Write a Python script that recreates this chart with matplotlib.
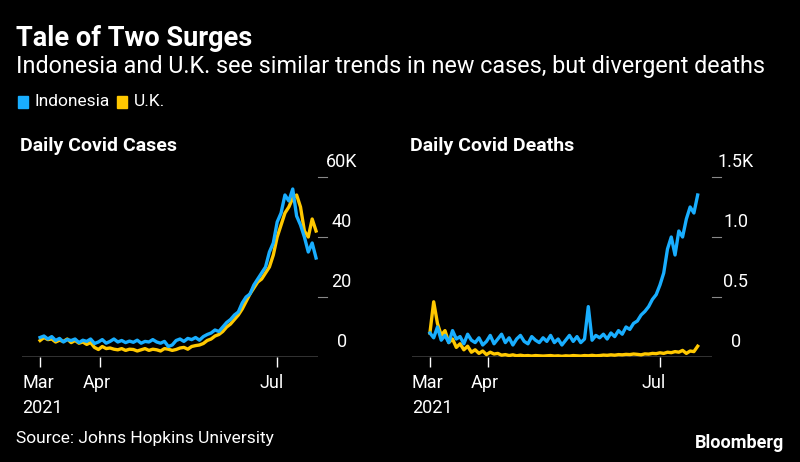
import numpy as np
import matplotlib.pyplot as plt
from matplotlib.transforms import offset_copy

# every 2 days from 2021-03-01 (day 0) to 2021-07-21 (day 142)
days = list(range(0, 143, 2))

indo_cases = [6.5, 7.0, 6.0, 6.8, 5.5, 6.2, 5.0, 5.8, 5.5, 6.0, 4.8, 5.6, 5.2, 6.0, 4.5,
              5.0, 5.8, 4.6, 5.2, 6.0, 5.0, 5.5, 4.8, 5.3, 4.9, 5.6, 4.6, 5.2, 5.0, 5.8,
              5.0, 4.6, 5.2, 3.5, 4.0, 5.5, 6.0, 5.2, 6.2, 5.8, 6.5, 5.6, 6.8, 7.5, 8.0,
              9.0, 8.5, 10.0, 11.5, 12.5, 14.0, 15.0, 18.0, 20.0, 21.0, 24.0, 26.0, 28.0,
              30.0, 35.0, 38.0, 45.0, 48.0, 54.0, 52.0, 56.0, 47.0, 44.0, 40.0, 35.0, 38.0, 33.0]
uk_cases = [5.5, 6.5, 5.8, 6.0, 5.0, 5.6, 5.2, 6.0, 4.8, 5.5, 4.6, 5.0, 4.2, 4.8, 3.2,
            2.5, 3.5, 2.8, 3.0, 2.6, 2.4, 2.8, 2.2, 2.6, 2.5, 2.0, 2.4, 2.8, 2.2, 2.6,
            2.4, 2.0, 2.8, 2.6, 2.2, 2.5, 3.0, 3.2, 2.6, 3.5, 3.8, 4.0, 4.5, 5.5, 6.0,
            7.0, 7.5, 8.5, 10.0, 11.0, 12.5, 14.0, 16.0, 18.5, 21.0, 23.0, 25.0, 26.0,
            28.0, 30.0, 34.0, 40.0, 44.0, 48.0, 50.0, 53.0, 54.0, 50.0, 42.0, 40.0, 46.0, 42.0]
indo_deaths = [200, 160, 250, 140, 180, 120, 220, 150, 170, 110, 190, 140, 120, 160, 100,
               130, 180, 110, 150, 190, 120, 160, 100, 150, 180, 130, 110, 170, 140, 120,
               160, 130, 180, 120, 150, 100, 140, 180, 130, 170, 120, 150, 420, 140, 180,
               160, 190, 150, 200, 170, 220, 190, 250, 230, 280, 300, 350, 380, 420, 480,
               520, 600, 700, 900, 1000, 850, 1050, 1000, 1150, 1250, 1200, 1350]
uk_deaths = [200, 460, 280, 180, 220, 120, 150, 80, 110, 60, 90, 40, 60, 30, 50,
             20, 40, 25, 30, 15, 20, 12, 18, 10, 15, 10, 12, 8, 12, 10,
             8, 10, 12, 8, 10, 6, 10, 8, 12, 10, 8, 12, 10, 14, 10,
             12, 16, 14, 18, 15, 20, 18, 22, 20, 25, 22, 18, 26, 24, 30,
             28, 35, 30, 40, 36, 45, 40, 55, 30, 50, 45, 90]

blue = '#19aeff'
yellow = '#ffc800'
plt.rcParams['font.family'] = ['Roboto', 'DejaVu Sans']

fig = plt.figure(figsize=(8, 4.62), dpi=100)
fig.patch.set_facecolor('black')

def panel(left_px, right_px, xmin, xmax, ymax, ticks, labels, a, b, title):
    W, H = 800, 462
    ax = fig.add_axes([left_px / W, 1 - 357 / H, (right_px - left_px) / W, 180 / H])
    ax.set_facecolor('black')
    ax.plot(days, b, color=yellow, lw=2.4, zorder=3)
    ax.plot(days, a, color=blue, lw=2.4, zorder=4)
    ax.set_xlim(xmin, xmax)
    ax.set_ylim(0, ymax)
    for s in ax.spines.values():
        s.set_visible(False)
    ax.axhline(0, color='white', lw=1, zorder=2)
    ax.set_yticks([])
    ax.set_xticks([0, 31, 122])
    ax.set_xticklabels(['Mar\n2021', 'Apr', 'Jul'], color='white', fontsize=13,
                       linespacing=1.55, ha='left', va='top')
    ax.tick_params(axis='x', colors='white', length=7, width=1, pad=5)
    for t in ax.xaxis.get_majorticklabels():
        t.set_transform(offset_copy(t.get_transform(), fig=fig, x=-13, y=0, units='points'))
    tr = ax.get_yaxis_transform()
    for v, l in zip(ticks, labels):
        ax.text(1.08, v, l, transform=offset_copy(tr, fig=fig, y=4, units='points'),
                color='white', fontsize=13, ha='center', va='bottom')
        if v > 0:
            ax.plot([1.0, 1.03], [v, v], transform=tr, color='#888888', lw=0.8, clip_on=False)
    fig.text(left_px / W - 0.003, 1 - 146 / H, title, color='white', fontsize=14,
             fontweight='bold', va='center')
    return ax

panel(22, 318, -9.3, 143, 60, [0, 20, 40, 60], ['0', '20', '40', '60K'],
      indo_cases, uk_cases, 'Daily Covid Cases')
panel(412, 712, -9.5, 149.6, 1500, [0, 500, 1000, 1500], ['0', '0.5', '1.0', '1.5K'],
      indo_deaths, uk_deaths, 'Daily Covid Deaths')

fig.text(0.02, 1 - 38 / 462, 'Tale of Two Surges', color='white', fontsize=19.5,
         fontweight='bold', va='center')
fig.text(0.02, 1 - 67 / 462, 'Indonesia and U.K. see similar trends in new cases, but divergent deaths',
         color='white', fontsize=16.8, va='center')
fig.patches.append(plt.Rectangle((0.0225, 1 - 108 / 462), 0.013, 0.025, color=blue,
                                 transform=fig.transFigure, figure=fig))
fig.text(0.043, 1 - 102 / 462, 'Indonesia', color='white', fontsize=12.5, va='center')
fig.patches.append(plt.Rectangle((0.146, 1 - 108 / 462), 0.013, 0.025, color=yellow,
                                 transform=fig.transFigure, figure=fig))
fig.text(0.167, 1 - 102 / 462, 'U.K.', color='white', fontsize=12.5, va='center')
fig.text(0.02, 1 - 439 / 462, 'Source: Johns Hopkins University', color='white',
         fontsize=12.5, va='center')
fig.text(0.98, 1 - 443 / 462, 'Bloomberg', color='white', fontsize=13, fontweight='bold',
         ha='right', va='center')

fig.savefig('out.png', dpi=100, facecolor='black')
